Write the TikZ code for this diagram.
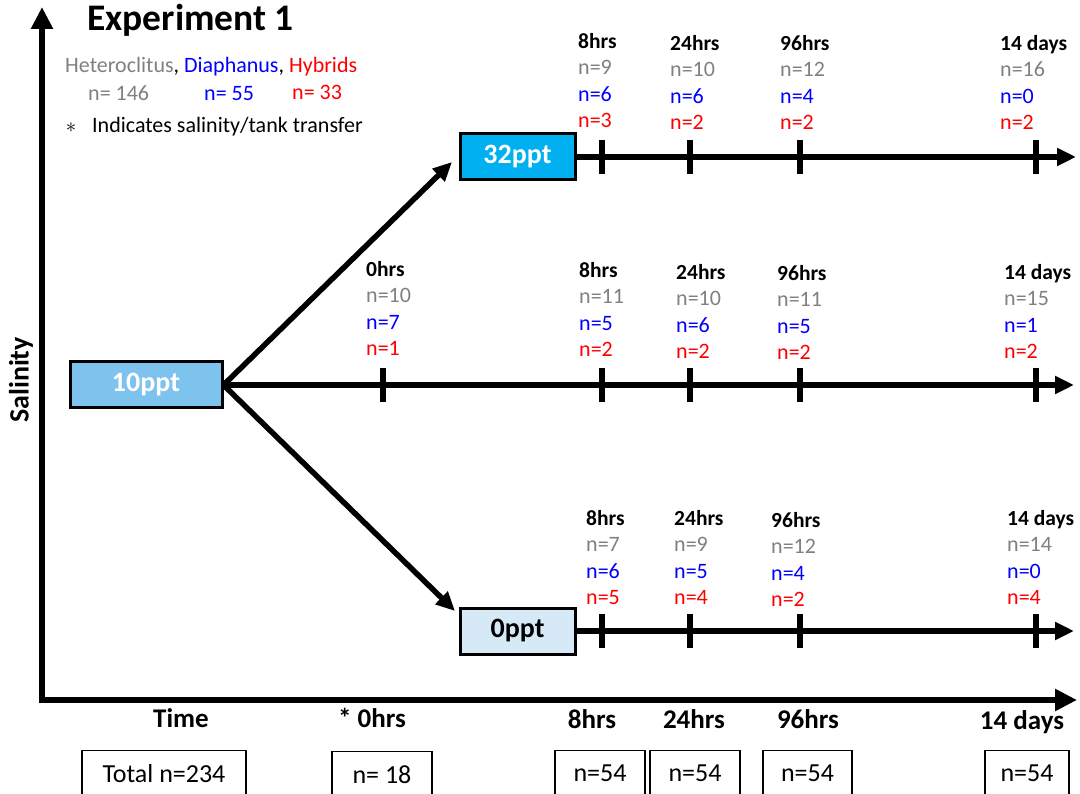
\documentclass[tikz,border=0pt]{standalone}
\usepackage{fontspec}
\setmainfont{Carlito}
\usetikzlibrary{arrows.meta}
\definecolor{ngray}{HTML}{808080}
\definecolor{nblue}{HTML}{0000FF}
\definecolor{nred}{HTML}{FF0000}
\definecolor{c32}{HTML}{00B0F0}
\definecolor{c10}{HTML}{7DC3EE}
\definecolor{c0}{HTML}{D5E9F7}
\newcommand{\tstack}[7]{%
  \node[hdr] (#1h) at (#2,#3) {#4};
  \node[lab,text=ngray] (#1g) at (#2,#3+26.4) {#5};
  \node[lab,text=nblue] (#1b) at (#2,#3+52.8) {#6};
  \node[lab,text=nred] (#1r) at (#2,#3+79.2) {#7};}
\begin{document}
\begin{tikzpicture}[x=1pt,y=-1pt,
  lab/.style={font=\fontsize{22}{24}\selectfont, anchor=mid west, inner sep=0pt, yshift=-5pt},
  hdr/.style={font=\bfseries\fontsize{21.5}{24}\selectfont, anchor=mid west, inner sep=0pt, yshift=-5pt},
  axlab/.style={font=\bfseries\fontsize{27}{30}\selectfont, inner sep=0pt},
  salbox/.style={draw=black, line width=3pt, font=\bfseries\fontsize{28}{30}\selectfont, inner sep=0pt, minimum height=46pt},
  cntbox/.style={draw=black, line width=1.2pt, font=\fontsize{26}{30}\selectfont, inner sep=0pt, minimum height=46pt, anchor=north},
  arr/.style={line width=5.5pt, -{Triangle[length=19pt,width=17pt]}},
  axis/.style={line width=6pt, {Triangle[length=22pt,width=21pt]}-{Triangle[length=22pt,width=21pt]}, line join=miter},
  tickmark/.style={line width=6pt}]
\useasboundingbox (0,0) rectangle (1080,794);
\clip (0,0) rectangle (1080,794);

% axes
\coordinate (ytop) at (42,7);
\coordinate (O) at (42,700);
\coordinate (xend) at (1077,700);
\draw[axis] (ytop) -- (O) -- (xend);
\node[font=\bfseries\fontsize{28}{30}\selectfont, rotate=90, inner sep=0pt] (sal) at (21,380) {Salinity};

% legend
\node[font=\bfseries\fontsize{37.5}{40}\selectfont, anchor=mid west, inner sep=0pt, yshift=-6pt] (title) at (87,22) {Experiment 1};
\node[lab] (species) at (65,65) {\textcolor{ngray}{Heteroclitus}, \textcolor{nblue}{Diaphanus}, \textcolor{nred}{Hybrids}};
\node[lab,text=ngray] (ng) at (88,93) {n= 146};
\node[lab,text=nblue] (nb) at (204,93) {n= 55};
\node[lab,text=nred] (nr) at (292,92) {n= 33};
\node[inner sep=0pt, font=\bfseries\fontsize{22}{24}\selectfont] (star) at (71,128) {$\ast$};
\node[lab] (ind) at (92,125) {Indicates salinity/tank transfer};

% salinity boxes
\node[salbox, fill=c10, text=white, minimum width=152pt] (b10) at (146,385) {10ppt};
\node[salbox, fill=c32, text=white, minimum width=115pt] (b32) at (517.5,157) {32ppt};
\node[salbox, fill=c0, text=black, minimum width=115pt] (b0) at (517.5,631) {0ppt};

% connectors
\coordinate (t32) at (452,162);
\coordinate (t0) at (455,611);
\coordinate (e32) at (1076,157);
\coordinate (e10) at (1074,385);
\coordinate (e0) at (1074,631);
\draw[arr] (b10.east) -- (t32);
\draw[arr] (b10.east) -- (t0);
\draw[arr] (b10.east) -- (e10);
\draw[arr] (b32.east) -- (e32);
\draw[arr] (b0.east) -- (e0);

% ticks
\foreach \x in {602,690,800,1036} {
  \draw[tickmark] (\x,140) -- (\x,174);
  \draw[tickmark] (\x,368) -- (\x,402);
  \draw[tickmark] (\x,614) -- (\x,648);
}
\draw[tickmark] (383,368) -- (383,402);

% top stacks (32ppt)
\tstack{ta}{578}{41}{8hrs}{n=9}{n=6}{n=3}
\tstack{tb}{670}{43}{24hrs}{n=10}{n=6}{n=2}
\tstack{tc}{780}{43}{96hrs}{n=12}{n=4}{n=2}
\tstack{td}{1000}{43}{14 days}{n=16}{n=0}{n=2}
% middle stacks (10ppt)
\tstack{ma}{366}{269}{0hrs}{n=10}{n=7}{n=1}
\tstack{mb}{579}{270}{8hrs}{n=11}{n=5}{n=2}
\tstack{mc}{676}{272}{24hrs}{n=10}{n=6}{n=2}
\tstack{md}{777}{273}{96hrs}{n=11}{n=5}{n=2}
\tstack{me}{1004}{272}{14 days}{n=15}{n=1}{n=2}
% bottom stacks (0ppt)
\tstack{ba}{586}{518}{8hrs}{n=7}{n=6}{n=5}
\tstack{bb}{674}{518}{24hrs}{n=9}{n=5}{n=4}
\tstack{bc}{771}{520}{96hrs}{n=12}{n=4}{n=2}
\tstack{bd}{1007}{518}{14 days}{n=14}{n=0}{n=4}

% time axis labels
\node[axlab] (lt) at (181,718) {Time};
\node[axlab] (l0) at (372,718) {* 0hrs};
\node[axlab] (l8) at (592,719) {8hrs};
\node[axlab] (l24) at (694,719) {24hrs};
\node[axlab] (l96) at (808,719) {96hrs};
\node[axlab] (l14) at (1022,722) {14 days};

% count boxes
\node[cntbox, minimum width=164pt] (ctot) at (164,750) {Total n=234};
\node[cntbox, minimum width=100pt] (c0) at (382,751) {n= 18};
\node[cntbox, minimum width=90pt] (c8) at (600,750) {n=54};
\node[cntbox, minimum width=90pt] (c24) at (695,750) {n=54};
\node[cntbox, minimum width=89pt] (c96) at (807.5,750) {n=54};
\node[cntbox, minimum width=84pt] (c14) at (1027,750) {n=54};
\end{tikzpicture}
\end{document}
